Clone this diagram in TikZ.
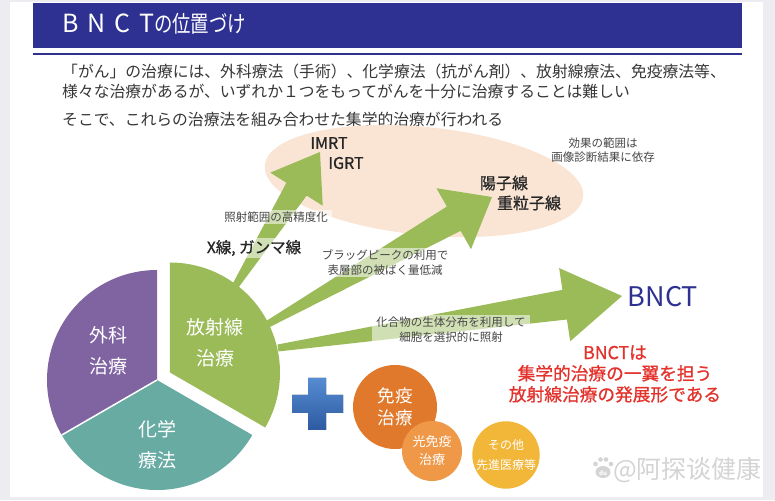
\documentclass[tikz,border=0pt]{standalone}
\usepackage{fontspec}
\usetikzlibrary{calc,shapes.geometric}
\newfontfamily\jp{Noto Sans CJK JP}
\newfontfamily\jpmed[FakeBold=0.9]{Noto Sans CJK JP}
\newfontfamily\jptitle[FakeStretch=0.8]{Noto Sans CJK JP}
\newfontfamily\latitle[LetterSpace=36]{Noto Sans CJK JP}
\newfontfamily\scfont{Noto Sans CJK SC}
\newcommand\fsz[2]{\fontsize{#1}{#2}\selectfont}
\definecolor{navy}{RGB}{46,49,146}
\definecolor{bodygray}{RGB}{55,55,55}
\definecolor{lblgray}{RGB}{70,70,70}
\definecolor{peach}{RGB}{250,229,213}
\definecolor{agreen}{RGB}{155,187,89}
\definecolor{purp}{RGB}{128,100,162}
\definecolor{tealc}{RGB}{104,171,163}
\definecolor{plustop}{RGB}{86,140,210}
\definecolor{plusbot}{RGB}{45,90,160}
\definecolor{orone}{RGB}{224,121,44}
\definecolor{ortwo}{RGB}{238,152,72}
\definecolor{yel}{RGB}{242,182,56}
\definecolor{redt}{RGB}{228,50,44}
\definecolor{wmgray}{RGB}{212,212,212}
\definecolor{pagegray}{RGB}{236,236,241}
% fat arrow: tail, tip, tail half width, shaft half width, head half width, head length
\newcommand\fatarrow[6]{%
  \path (#2) coordinate (fa-tip) ($(#2)!#6!(#1)$) coordinate (fa-base);
  \fill[agreen] ($(#1)!#3!90:(#2)$) -- ($(fa-base)!#4!90:(fa-tip)$) -- ($(fa-base)!#5!90:(fa-tip)$)
    -- (fa-tip) -- ($(fa-base)!#5!-90:(fa-tip)$) -- ($(fa-base)!#4!-90:(fa-tip)$)
    -- ($(#1)!#3!-90:(#2)$) -- cycle;}
\tikzset{
  bodytext/.style={anchor=west, inner sep=0pt, text=bodygray, font=\jp\fsz{15.8}{18}},
  lbl/.style={fill=white, fill opacity=0.55, text opacity=1, text=lblgray, font=\jp\fsz{11.5}{15}, align=center, inner xsep=4pt, inner ysep=2pt},
  darkt/.style={text=black!85, font=\jpmed\fsz{16}{19}, inner sep=0pt},
  pietext/.style={text=white, font=\jp\fsz{19}{31}, align=center, inner sep=0pt},
  bubble/.style={circle, inner sep=0pt, text=white, align=center}
}
\begin{document}
\begin{tikzpicture}[x=1pt,y=1pt]
\useasboundingbox (0,0) rectangle (775,500);
\fill[pagegray] (0,0) rectangle (775,500);
\fill[white] (10,3) rectangle (763,498);
% header
\fill[navy] (33,452) rectangle (742,497);
\fill[navy] (33,444.5) rectangle (742,446.8);
\node[anchor=west, text=white, inner sep=0pt] (title) at (62,476) {\latitle\fsz{25}{25}BNCT\jptitle\fsz{23}{23}の位置づけ};
% intro text
\node[bodytext] (l1) at (62,428) {「がん」の治療には、外科療法（手術）、化学療法（抗がん剤）、放射線療法、免疫療法等、};
\node[bodytext] (l2) at (62,409) {様々な治療があるが、いずれか１つをもってがんを十分に治療することは難しい};
\node[bodytext] (l3) at (62,381) {そこで、これらの治療法を組み合わせた集学的治療が行われる};
% zone ellipse
\node[ellipse, fill=peach, minimum width=320pt, minimum height=108pt, rotate=-5.7, inner sep=0pt] (zone) at (424,319) {};
% arrow end points
\coordinate (t1) at (236,215);
\coordinate (h1) at (320,348);
\coordinate (t2) at (268,176);
\coordinate (h2) at (492,303);
\coordinate (t3) at (278,152);
\coordinate (h3) at (622,204);
\fatarrow{t1}{h1}{3.5pt}{12pt}{31pt}{44pt}
\fatarrow{t2}{h2}{3.5pt}{14pt}{35pt}{44pt}
\fatarrow{t3}{h3}{3.5pt}{15pt}{37pt}{58pt}
% targets
\node[darkt] (imrt) at (329,357) {IMRT};
\node[darkt] (igrt) at (346,337) {IGRT};
\node[darkt] (yoshi) at (504,317) {陽子線};
\node[darkt] (jury) at (529,297) {重粒子線};
\node[text=lblgray, font=\jp\fsz{11.5}{14}, align=center, inner sep=0pt] (kouka) at (603,350) {効果の範囲は\\画像診断結果に依存};
\node[text=navy, font=\jp\fsz{27}{27}, inner sep=0pt] (bnct) at (663,203) {BNCT};
% labels
\node[lbl] (lb1) at (276,283) {照射範囲の高精度化};
\node[lbl, text=black!85, font=\jpmed\fsz{15.5}{18}] (xray) at (254,252) {X線, ガンマ線};
\node[lbl] (lb2) at (385,237.5) {ブラッグピークの利用で\\表層部の被ばく量低減};
\node[lbl] (lb3) at (451,170) {化合物の生体分布を利用して\\細胞を選択的に照射};
% pie
\coordinate (pc) at (157,120);
\coordinate (gc) at ($(pc)+(30:15)$);
\fill[purp] (pc) -- ++(90:110) arc[start angle=90, end angle=210, radius=110] -- cycle;
\fill[tealc] (pc) -- ++(210:110) arc[start angle=210, end angle=330, radius=110] -- cycle;
\draw[white, line width=1.5pt] (pc) -- ++(210:110);
\fill[agreen] (gc) -- ++(-30:110) arc[start angle=-30, end angle=90, radius=110] -- cycle;
\node[pietext] (geka) at (108,149) {外科\\治療};
\node[pietext] (hosha) at (215,157.5) {放射線\\治療};
\node[pietext] (kagaku) at (157,55) {化学\\療法};
% plus
\fill[top color=plustop, bottom color=plusbot] (308,70) -- (326,70) -- (326,87) -- (343,87) -- (343,105) -- (326,105) -- (326,122) -- (308,122) -- (308,105) -- (292,105) -- (292,87) -- (308,87) -- cycle;
% bubbles
\node[bubble, fill=orone, minimum size=84pt, font=\jp\fsz{17.5}{21.5}] (meneki) at (395,93) {免疫\\治療};
\node[bubble, fill=ortwo, minimum size=60pt, font=\jp\fsz{13}{18}] (hikari) at (432,49) {光免疫\\治療};
\node[bubble, fill=yel, minimum size=66pt, font=\jp\fsz{12}{20}] (sonota) at (506,45) {その他\\先進医療等};
% conclusion
\node[text=redt, font=\jpmed\fsz{17.7}{21}, align=center, inner sep=0pt] (concl) at (615,126) {BNCTは\\集学的治療の一翼を担う\\放射線治療の発展形である};
% watermark
\fill[wmgray] (603,28) ellipse (7.5 and 6);
\foreach \px/\py in {595.5/36, 600.5/40.5, 606/40.5, 611/36} \fill[wmgray] (\px,\py) circle (2.3);
\node[text=white, font=\jp\bfseries\fsz{6}{6}, inner sep=0pt] (du) at (603,27) {du};
\node[text=wmgray, font=\scfont\fsz{25}{25}, anchor=west, inner sep=0pt] (wm) at (613,30) {@阿探谈健康};
\end{tikzpicture}
\end{document}
